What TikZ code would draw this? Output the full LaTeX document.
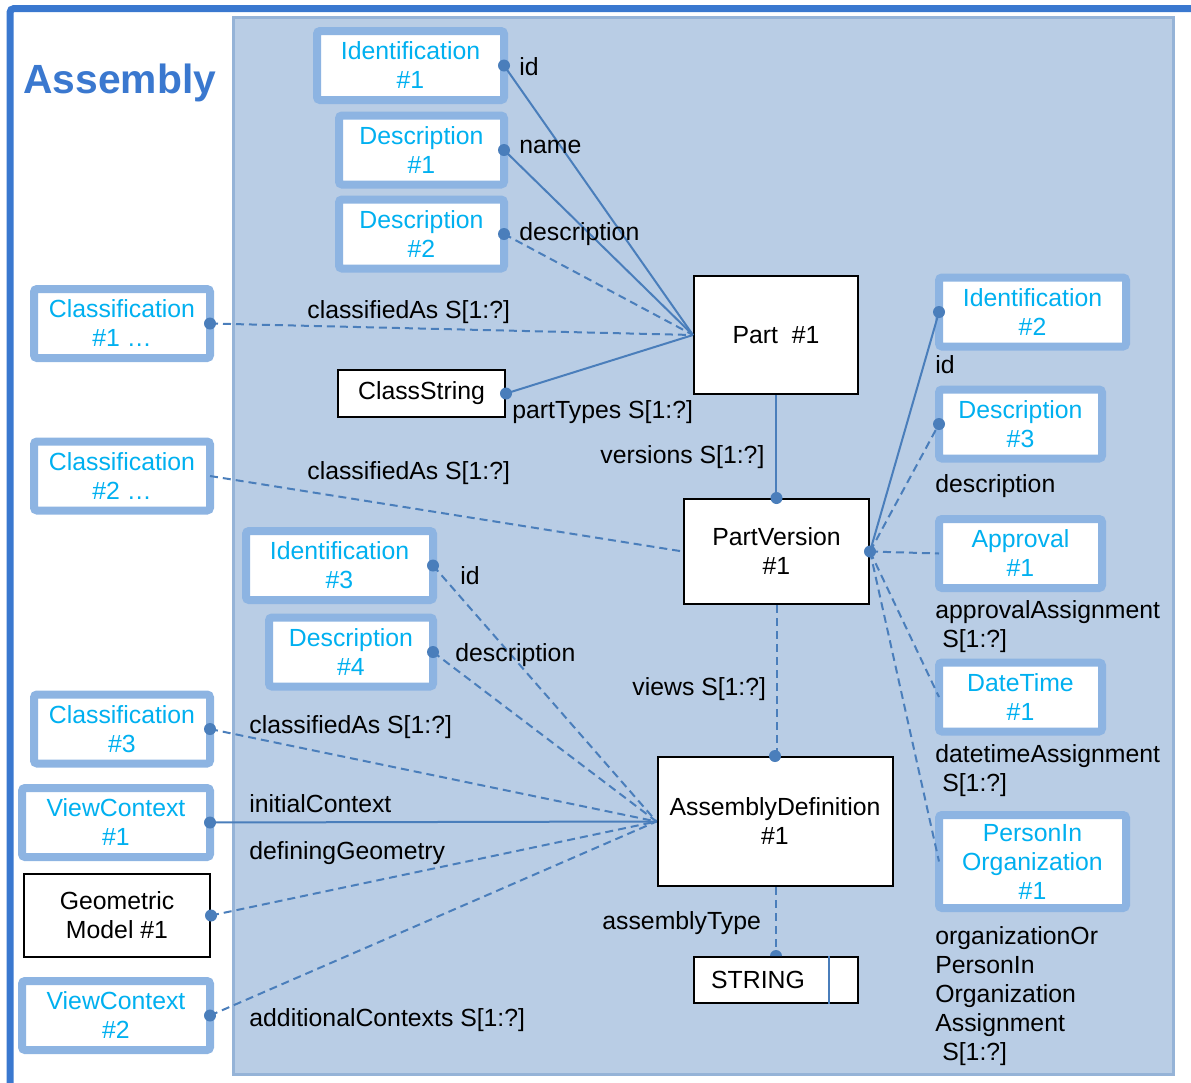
\documentclass[tikz,border=0pt]{standalone}
\usepackage{fontspec}
\setmainfont{Liberation Sans}
\definecolor{frameblue}{RGB}{58,120,207}
\definecolor{panelfill}{RGB}{185,205,229}
\definecolor{panelline}{RGB}{149,179,215}
\definecolor{boxblue}{RGB}{141,180,226}
\definecolor{cyantext}{RGB}{0,176,240}
\definecolor{linkblue}{RGB}{74,126,187}
\newcommand{\labfont}{\fontsize{12.4}{14.5}\selectfont}
\begin{document}
\begin{tikzpicture}[x=0.5pt, y=-0.5pt,
    link/.style={draw=linkblue, line width=1pt},
    weak/.style={dash pattern=on 4pt off 2.5pt},
    entity/.style={draw=boxblue, line width=4pt, fill=white, rounded corners=1.5pt,
        inner sep=0pt, outer sep=0pt, align=center, text=cyantext, font=\labfont,
        minimum height=34.5pt},
    plain/.style={draw=black, line width=1pt, fill=white, inner sep=0pt,
        align=center, font=\labfont},
    role/.style={anchor=base west, inner sep=0pt, font=\labfont}]
    \useasboundingbox (0,0) rectangle (1191,1083);
    % frame and panel
    \draw[frameblue, line width=3.5pt, rounded corners=2pt] (10,1100) -- (10,8.5) -- (1200,8.5);
    \draw[draw=panelline, fill=panelfill, line width=1.5pt] (233,17) rectangle (1173,1074);
    \node[anchor=base west, inner sep=0pt, text=frameblue,
        font=\fontsize{20.4}{24}\selectfont\bfseries] (title) at (23,93) {Assembly};

    % part side
    \node[entity, minimum width=93.5pt] (id1) at (410.5,65.5) {Identification\\\#1};
    \node[entity, minimum width=82.5pt] (de1) at (421.5,150) {Description\\\#1};
    \node[entity, minimum width=82.5pt] (de2) at (421.5,234) {Description\\\#2};
    \node[entity, minimum width=88pt] (cl1) at (122,323.5) {Classification\\\#1 …};
    \node[entity, minimum width=88pt] (cl2) at (122,476) {Classification\\\#2 …};
    \node[plain, minimum width=82pt, minimum height=59pt] (part) at (776,335) {Part\ \ \#1};
    \node[plain, minimum width=83.5pt, minimum height=23.5pt] (cs) at (421.5,393.5) {ClassString};
    \node[plain, minimum width=92.5pt, minimum height=52.5pt] (pv) at (776.5,551.5) {PartVersion\\\#1};

    % version side
    \node[entity, minimum width=93.5pt] (id2) at (1032.5,312) {Identification\\\#2};
    \node[entity, minimum width=81.5pt] (de3) at (1020.5,424) {Description\\\#3};
    \node[entity, minimum width=81.5pt] (ap1) at (1020.5,553.5) {Approval\\\#1};
    \node[entity, minimum width=81.5pt] (dt1) at (1020.5,697) {DateTime\\\#1};
    \node[entity, minimum width=93.5pt, minimum height=46.5pt] (po1) at (1032.5,861.5) {PersonIn\\Organization\\\#1};

    % definition side
    \node[entity, minimum width=93.5pt] (id3) at (339.5,565.5) {Identification\\\#3};
    \node[entity, minimum width=82pt] (de4) at (351,652) {Description\\\#4};
    \node[entity, minimum width=88pt] (cl3) at (122,729) {Classification\\\#3};
    \node[entity, minimum width=94pt] (vc1) at (116,822.5) {ViewContext\\\#1};
    \node[plain, minimum width=93pt, minimum height=41.5pt] (gm1) at (117,915.5) {Geometric\\Model \#1};
    \node[entity, minimum width=94pt] (vc2) at (116,1015.5) {ViewContext\\\#2};
    \node[plain, minimum width=117.5pt, minimum height=64.5pt] (ad) at (775,821.5) {AssemblyDefinition\\\#1};
    \node[plain, minimum width=82pt, minimum height=23pt] (str) at (776,980) {STRING\hspace{18pt}};
    \draw[draw=linkblue, line width=0.6pt] ([xshift=-15pt]str.north east) -- ([xshift=-15pt]str.south east);

    % connectors
    \foreach \n/\s in {id1/solid, de1/solid, de2/weak, cl1/weak, cs/solid}
        \draw[link, \s] (\n.east) -- (part.west);
    \draw[link] (part.south) -- (part.south |- pv.north);
    \draw[link, weak] (cl2.east) -- (pv.west);
    \foreach \n/\s in {id2/solid, de3/weak, ap1/weak, dt1/weak, po1/weak}
        \draw[link, \s] (pv.east) -- (\n.west);
    \draw[link, weak] (pv.south) -- (pv.south |- ad.north);
    \foreach \n/\s in {id3/weak, de4/weak, cl3/weak, vc1/solid, gm1/weak, vc2/weak}
        \draw[link, \s] (\n.east) -- (ad.west);
    \draw[link, weak] (str.north |- ad.south) -- (str.north);
    \foreach \p in {id1.east, de1.east, de2.east, cl1.east, cs.east, pv.north, pv.east,
        id2.west, de3.west, id3.east, de4.east, cl3.east, vc1.east, gm1.east, vc2.east, ad.north}
        \fill[linkblue] (\p) circle (3pt);
    \fill[linkblue] ([xshift=-3pt]str.north) arc[start angle=180, end angle=0, radius=3pt];

    % role names
    \node[role] (rid1) at (519,75) {id};
    \node[role] (rname) at (519,153) {name};
    \node[role] (rde2) at (519,240) {description};
    \node[role] (rcl1) at (307,318) {classifiedAs S[1:?]};
    \node[role] (rcs) at (512,418) {partTypes S[1:?]};
    \node[role] (rver) at (600,463) {versions S[1:?]};
    \node[role] (rcl2) at (307,479) {classifiedAs S[1:?]};
    \node[role] (rid2) at (935,373) {id};
    \node[role] (rde3) at (935,492) {description};
    \node[role, align=left] (rap1) at (935,647) {approvalAssignment\\\ S[1:?]};
    \node[role, align=left] (rdt1) at (935,791) {datetimeAssignment\\\ S[1:?]};
    \node[role, align=left] (rpo1) at (935,1060) {organizationOr\\PersonIn\\Organization\\Assignment\\\ S[1:?]};
    \node[role] (rid3) at (460,584) {id};
    \node[role] (rde4) at (455,661) {description};
    \node[role] (rview) at (632,695) {views S[1:?]};
    \node[role] (rcl3) at (249,733) {classifiedAs S[1:?]};
    \node[role] (rvc1) at (249,812) {initialContext};
    \node[role] (rgm1) at (249,859) {definingGeometry};
    \node[role] (rtype) at (602,929) {assemblyType};
    \node[role] (rvc2) at (249,1026) {additionalContexts S[1:?]};
\end{tikzpicture}
\end{document}
